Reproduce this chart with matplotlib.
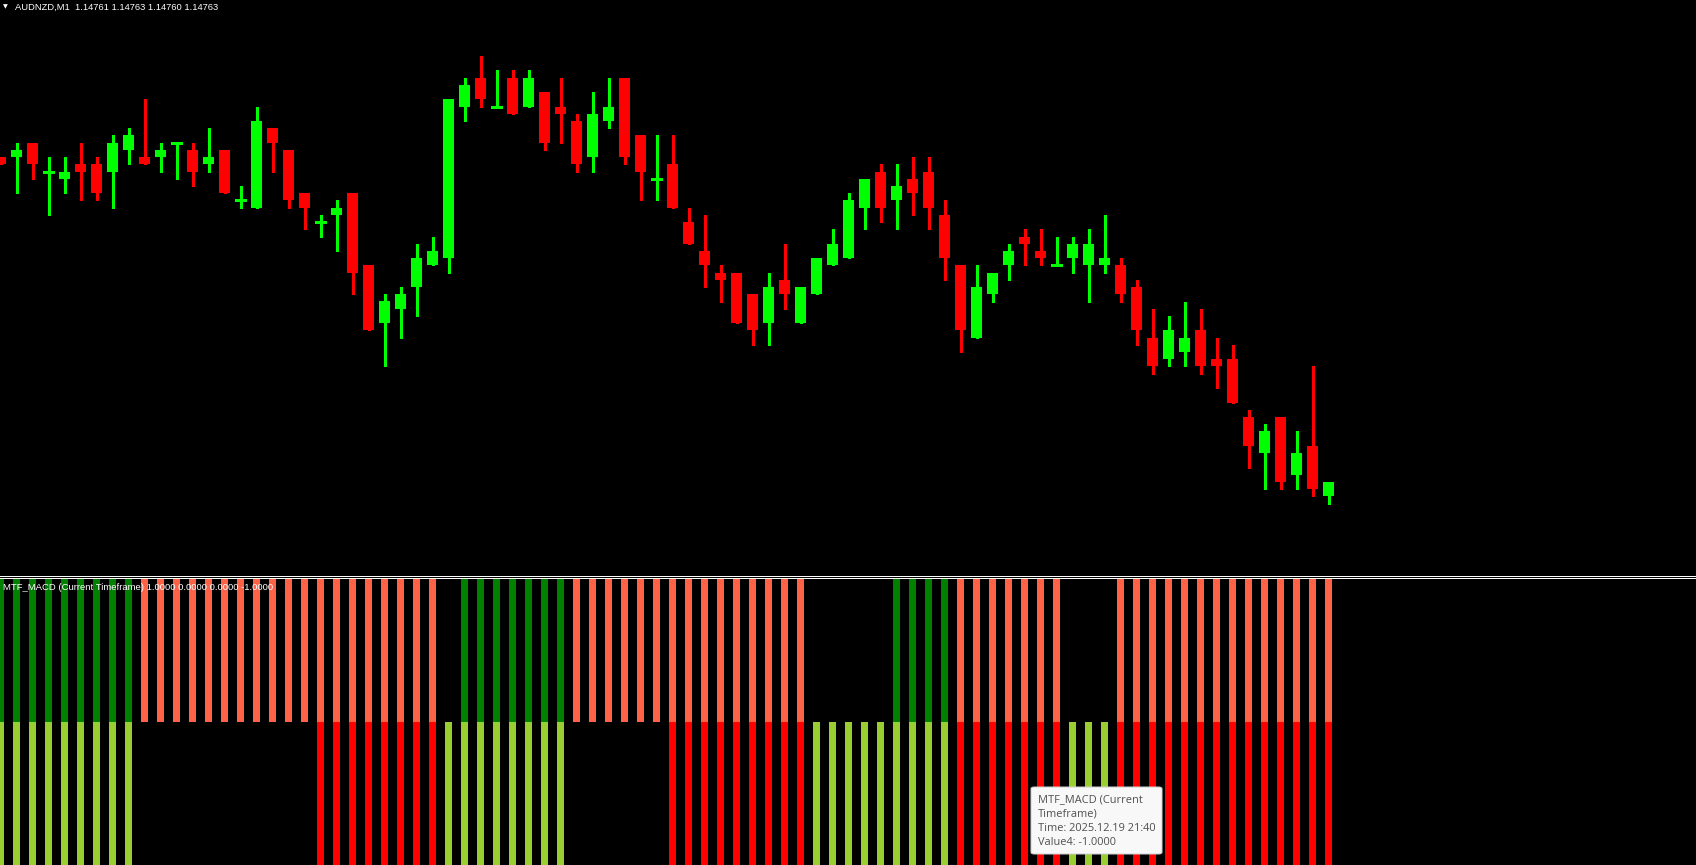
import numpy as np
import matplotlib
matplotlib.use("Agg")
import matplotlib.pyplot as plt
from matplotlib.lines import Line2D
from matplotlib.patches import FancyBboxPatch

# ---------------- data ----------------
symbol_title = "AUDNZD,M1  1.14761 1.14763 1.14760 1.14763"
indicator_title = "MTF_MACD (Current Timeframe) 1.0000 0.0000 0.0000 -1.0000"
tooltip_lines = ["MTF_MACD (Current", "Timeframe)", "Time: 2025.12.19 21:40", "Value4: -1.0000"]

opens = [1.14808, 1.14808, 1.14810, 1.14806, 1.14805, 1.14807, 1.14807, 1.14806, 1.14809, 1.14808,
         1.14808, 1.14810, 1.14809, 1.14807, 1.14809, 1.14802, 1.14801, 1.14812, 1.14809, 1.14803,
         1.14799, 1.14800, 1.14803, 1.14793, 1.14785, 1.14787, 1.14790, 1.14793, 1.14794, 1.14815,
         1.14819, 1.14815, 1.14819, 1.14815, 1.14817, 1.14815, 1.14813, 1.14808, 1.14813, 1.14819,
         1.14811, 1.14805, 1.14807, 1.14799, 1.14795, 1.14792, 1.14792, 1.14789, 1.14785, 1.14791,
         1.14785, 1.14789, 1.14793, 1.14794, 1.14801, 1.14806, 1.14802, 1.14805, 1.14806, 1.14800,
         1.14793, 1.14783, 1.14789, 1.14793, 1.14797, 1.14795, 1.14793, 1.14794, 1.14793, 1.14793,
         1.14793, 1.14790, 1.14783, 1.14780, 1.14781, 1.14784, 1.14780, 1.14780, 1.14772, 1.14767,
         1.14772, 1.14764, 1.14768, 1.14761]
highs = [1.14808, 1.14810, 1.14810, 1.14808, 1.14808, 1.14810, 1.14808, 1.14811, 1.14812, 1.14816,
         1.14810, 1.14810, 1.14810, 1.14812, 1.14809, 1.14804, 1.14815, 1.14812, 1.14809, 1.14803,
         1.14800, 1.14802, 1.14803, 1.14793, 1.14789, 1.14790, 1.14796, 1.14797, 1.14816, 1.14819,
         1.14822, 1.14820, 1.14820, 1.14820, 1.14817, 1.14819, 1.14814, 1.14817, 1.14819, 1.14819,
         1.14811, 1.14811, 1.14811, 1.14801, 1.14800, 1.14793, 1.14792, 1.14789, 1.14792, 1.14796,
         1.14790, 1.14794, 1.14798, 1.14803, 1.14805, 1.14807, 1.14807, 1.14808, 1.14808, 1.14802,
         1.14793, 1.14793, 1.14792, 1.14796, 1.14798, 1.14798, 1.14797, 1.14797, 1.14798, 1.14800,
         1.14794, 1.14791, 1.14787, 1.14786, 1.14788, 1.14787, 1.14783, 1.14782, 1.14773, 1.14771,
         1.14772, 1.14770, 1.14779, 1.14763]
lows = [1.14807, 1.14803, 1.14805, 1.14800, 1.14803, 1.14802, 1.14802, 1.14801, 1.14807, 1.14807,
        1.14806, 1.14805, 1.14804, 1.14806, 1.14803, 1.14801, 1.14801, 1.14806, 1.14801, 1.14798,
        1.14797, 1.14795, 1.14789, 1.14784, 1.14779, 1.14783, 1.14786, 1.14793, 1.14792, 1.14813,
        1.14815, 1.14815, 1.14814, 1.14815, 1.14809, 1.14810, 1.14806, 1.14806, 1.14812, 1.14807,
        1.14802, 1.14802, 1.14801, 1.14796, 1.14790, 1.14788, 1.14785, 1.14782, 1.14782, 1.14787,
        1.14785, 1.14789, 1.14793, 1.14794, 1.14798, 1.14799, 1.14798, 1.14800, 1.14798, 1.14791,
        1.14781, 1.14783, 1.14788, 1.14791, 1.14793, 1.14793, 1.14793, 1.14792, 1.14788, 1.14792,
        1.14788, 1.14782, 1.14778, 1.14779, 1.14779, 1.14778, 1.14776, 1.14774, 1.14765, 1.14762,
        1.14762, 1.14762, 1.14761, 1.14760]
closes = [1.14807, 1.14809, 1.14807, 1.14806, 1.14806, 1.14806, 1.14803, 1.14810, 1.14811, 1.14807,
          1.14809, 1.14810, 1.14806, 1.14808, 1.14803, 1.14802, 1.14813, 1.14810, 1.14802, 1.14801,
          1.14799, 1.14801, 1.14792, 1.14784, 1.14788, 1.14789, 1.14794, 1.14795, 1.14816, 1.14818,
          1.14816, 1.14815, 1.14814, 1.14819, 1.14810, 1.14814, 1.14807, 1.14814, 1.14815, 1.14808,
          1.14806, 1.14805, 1.14801, 1.14796, 1.14793, 1.14791, 1.14785, 1.14784, 1.14790, 1.14789,
          1.14790, 1.14794, 1.14796, 1.14802, 1.14805, 1.14801, 1.14804, 1.14803, 1.14801, 1.14794,
          1.14784, 1.14790, 1.14792, 1.14795, 1.14796, 1.14794, 1.14793, 1.14796, 1.14796, 1.14794,
          1.14789, 1.14784, 1.14779, 1.14784, 1.14783, 1.14779, 1.14779, 1.14774, 1.14768, 1.14770,
          1.14763, 1.14767, 1.14762, 1.14763]

# indicator states per bar: upper half  G = Value1 (+1, dark green), S = Value2 (+1, tomato), - = empty
upper_state = ("GGGGGGGGG" "SSSSSSSSSSSSSSSSSSS" "-" "GGGGGGG" "SSSSSSSSSSSSSSS"
               "-----" "GGGG" "SSSSSSS" "---" "SSSSSSSSSSSSSS")
# lower half  Y = Value3 (-1, yellowgreen), R = Value4 (-1, red), - = empty
lower_state = ("YYYYYYYYY" "-----------" "RRRRRRRR" "YYYYYYYY" "------"
               "RRRRRRRRR" "YYYYYYYYY" "RRRRRRR" "YYY" "RRRRRRRRRRRRRR")

value1 = [1.0 if c == "G" else np.nan for c in upper_state]
value2 = [1.0 if c == "S" else np.nan for c in upper_state]
value3 = [-1.0 if c == "Y" else np.nan for c in lower_state]
value4 = [-1.0 if c == "R" else np.nan for c in lower_state]

# ---------------- layout ----------------
W, H = 1696, 865
BAR_PX = 16.0
plt.rcParams["font.family"] = ["Liberation Sans", "DejaVu Sans"]

fig = plt.figure(figsize=(W / 100, H / 100), dpi=100, facecolor="black")

def fy(py):
    return 1 - py / H

main_bottom_px = 574
ind_top_px = 579

ax = fig.add_axes([0, fy(main_bottom_px), 1, main_bottom_px / H])
ax2 = fig.add_axes([0, 0, 1, (H - ind_top_px) / H])
for a in (ax, ax2):
    a.set_facecolor("black")
    a.set_axis_off()
    a.set_xlim(-0.5 / BAR_PX, (W - 0.5) / BAR_PX)

# price axis: 7.22 px per point, 1.14763 at 482 px from top
pt = 0.00001
ppp = 7.22
top_price = 1.14763 + 482 / ppp * pt
bot_price = 1.14763 - (main_bottom_px - 482) / ppp * pt
ax.set_ylim(bot_price, top_price)
ax2.set_ylim(-1, 1)

o = np.array(opens); h = np.array(highs); l = np.array(lows); c = np.array(closes)
x = np.arange(len(o))
bull = c >= o
col = np.where(bull, "#00FF00", "#FF0000")
px = 72 / 100  # one pixel in points

ax.vlines(x, l, h, colors=col, linewidth=px * 1.1, antialiased=False)
body_w = 11 / BAR_PX
nz = c != o
ax.bar(x[nz], np.abs(c - o)[nz], bottom=np.minimum(o, c)[nz], width=body_w,
       color=col[nz], linewidth=0, antialiased=False)
dj = ~nz
ax.hlines(o[dj], x[dj] - body_w / 2, x[dj] + body_w / 2, colors=col[dj],
          linewidth=px * 1.1, antialiased=False)

# indicator histogram
ind_w = 7 / BAR_PX
for vals, colr in ((value1, "#008000"), (value2, "#FF6347"),
                   (value3, "#9ACD32"), (value4, "#FF0000")):
    v = np.array(vals)
    m = ~np.isnan(v)
    ax2.bar(x[m], v[m], width=ind_w, color=colr, linewidth=0, antialiased=False)

# separator lines
for yy in (575.5, 577.5):
    fig.add_artist(Line2D([0, 1], [fy(yy), fy(yy)], color="white",
                          linewidth=px, transform=fig.transFigure, antialiased=False))

# titles
fig.text(3 / W, fy(6.5), "\u25BC", color="white", fontsize=4.5, va="center", ha="left",
         family=["DejaVu Sans"])
fig.text(15 / W, fy(7.5), symbol_title, color="white", fontsize=6.75, va="center", ha="left")
fig.text(3 / W, fy(587.5), indicator_title, color="white", fontsize=6.8, va="center", ha="left")

# tooltip
bx0, by0, bx1, by1 = 1031, 787, 1162, 854
box = FancyBboxPatch((bx0 / W, fy(by1)), (bx1 - bx0) / W, (by1 - by0) / H,
                     boxstyle="round,pad=0,rounding_size=0.002", transform=fig.transFigure,
                     facecolor="#F8F8F8", edgecolor="#D0D0D0", linewidth=px)
fig.add_artist(box)
for k, t in enumerate(tooltip_lines):
    fig.text(1038 / W, fy(799.5 + 14.3 * k), t, color="#505050", fontsize=7.9,
             va="center", ha="left", family=["Open Sans", "DejaVu Sans"])

fig.savefig("out.png", dpi=100, facecolor="black")
